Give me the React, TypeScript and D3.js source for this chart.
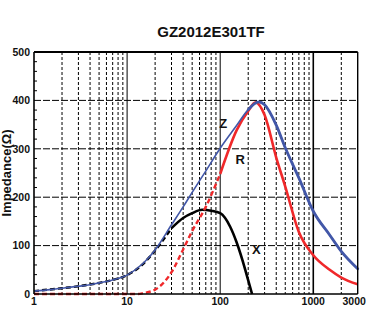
import * as d3 from 'd3';

const TITLE = 'GZ2012E301TF';
const Y_LABEL = 'Impedance(Ω)';

const Y_TICKS = [0, 100, 200, 300, 400, 500];
const X_TICKS = [1, 10, 100, 1000, 3000];

// |Z|
const Z_FREQ = [1, 1.5, 2, 3, 4, 5, 7, 10, 15, 20, 30, 40, 50, 70, 100, 150, 200, 260, 300, 400, 500, 700, 1000, 1500, 2000, 3000];
const Z_VAL = [6, 9, 12, 16, 19, 23, 29, 39, 64, 91, 143, 180, 210, 254, 301, 348, 381, 397, 391, 349, 302, 240, 171, 122, 88, 52];

// R
const R_FREQ = [1, 5, 10, 13, 15, 20, 30, 40, 50, 70, 100, 150, 200, 240, 300, 400, 500, 700, 1000, 1500, 2000, 3000];
const R_VAL = [0, 0, 0, 0, 2, 9, 45, 92, 130, 180, 248, 338, 378, 396, 370, 282, 222, 128, 80, 50, 34, 20];

// X
const X_FREQ = [1, 2, 3, 5, 7, 10, 15, 20, 30, 40, 50, 64, 80, 100, 128, 150, 186, 200, 220];
const X_VAL = [6, 12, 16, 23, 29, 39, 63, 90, 136, 157, 167, 174, 172, 167, 139, 107, 50, 28, 0];

const CURVE_LABELS = [
  { name: 'Z', f: 108, v: 342 },
  { name: 'R', f: 164, v: 268 },
  { name: 'X', f: 244, v: 83 },
];

type Pt = { f: number; v: number };
const zip = (fs: number[], vs: number[]): Pt[] => fs.map((f, i) => ({ f, v: vs[i] }));

const W = 369;
const H = 311;
const left = 34;
const right = 357.7;
const top = 52;
const bottom = 294;
const FONT = "'Liberation Sans', Arial, Helvetica, sans-serif";
const BLUE = '#4257a8';
const RED = '#f0282a';

export default function App() {
  const x = d3.scaleLog().domain([1, 3000]).range([left, right]);
  const y = d3.scaleLinear().domain([0, 500]).range([bottom, top]);

  const line = d3
    .line<Pt>()
    .x((d) => x(d.f))
    .y((d) => y(d.v))
    .curve(d3.curveMonotoneX);

  const z = zip(Z_FREQ, Z_VAL);
  const r = zip(R_FREQ, R_VAL);
  const xs = zip(X_FREQ, X_VAL);

  const zRight = z.filter((d) => d.f >= 200);
  const rDash = r.filter((d) => d.f <= 100);
  const rSolid = r.filter((d) => d.f >= 100);
  const xDash = xs.filter((d) => d.f <= 30);
  const xSolid = xs.filter((d) => d.f >= 30);

  // vertical grid: 2..9 of every decade dashed, decades solid
  const vGrid: { f: number; solid: boolean }[] = [];
  [1, 10, 100, 1000].forEach((dec) => {
    for (let m = 1; m <= 9; m++) {
      const f = dec * m;
      if (f <= 1 || f >= 3000) continue;
      vGrid.push({ f, solid: m === 1 });
    }
  });

  const minorY = d3.range(0, 501, 20).filter((v) => v % 100 !== 0);

  return (
    <svg
      width={W}
      height={H}
      viewBox={`0 0 ${W} ${H}`}
      style={{ position: 'absolute', left: 0, top: 0, background: '#fff' }}
      fontFamily={FONT}
    >
      <rect x={0} y={0} width={W} height={H} fill="#fff" />
      <text x={211} y={37} textAnchor="middle" fontSize={15} fontWeight="bold" fill="#111">
        {TITLE}
      </text>
      <text
        transform={`translate(11,${(top + bottom) / 2}) rotate(-90)`}
        textAnchor="middle"
        fontSize={13}
        fontWeight="bold"
        fill="#111"
      >
        {Y_LABEL}
      </text>

      {/* grid */}
      {vGrid.map((g) => (
        <line
          key={g.f}
          x1={x(g.f)}
          x2={x(g.f)}
          y1={top}
          y2={bottom}
          stroke="#000"
          strokeWidth={g.f === 1000 ? 1.6 : 1}
          strokeDasharray={g.solid ? undefined : '3,2'}
        />
      ))}
      {Y_TICKS.filter((v) => v > 0 && v < 500).map((v) => (
        <line key={v} x1={left} x2={right} y1={y(v)} y2={y(v)} stroke="#000" strokeWidth={1} strokeDasharray="7,2" />
      ))}
      {minorY.map((v) => (
        <line key={v} x1={left} x2={left + 3} y1={y(v)} y2={y(v)} stroke="#000" strokeWidth={1} />
      ))}

      {/* curves */}
      <path d={line(xDash) ?? ''} fill="none" stroke="#000" strokeWidth={2.4} strokeDasharray="5,3" />
      <path d={line(xSolid) ?? ''} fill="none" stroke="#000" strokeWidth={2.6} />
      <path d={line(rDash) ?? ''} fill="none" stroke={RED} strokeWidth={2.4} strokeDasharray="5,3" />
      <path d={line(rSolid) ?? ''} fill="none" stroke={RED} strokeWidth={2.6} />
      <path d={line(z) ?? ''} fill="none" stroke={BLUE} strokeWidth={1.6} />
      <path d={line(zRight) ?? ''} fill="none" stroke={BLUE} strokeWidth={2.8} strokeLinecap="round" />

      {CURVE_LABELS.map((l) => (
        <text key={l.name} x={x(l.f)} y={y(l.v)} textAnchor="middle" fontSize={13} fontWeight="bold" fill="#111">
          {l.name}
        </text>
      ))}

      {/* frame */}
      <line x1={left} x2={right} y1={top} y2={top} stroke="#000" strokeWidth={2} />
      <line x1={left} x2={right} y1={bottom} y2={bottom} stroke="#000" strokeWidth={1.6} />
      <line x1={left} x2={left} y1={top} y2={bottom} stroke="#000" strokeWidth={1.6} />
      <line x1={right} x2={right} y1={top} y2={bottom} stroke="#000" strokeWidth={1.4} />

      {/* tick labels */}
      {Y_TICKS.map((v) => (
        <text key={v} x={30} y={y(v) + 3.7} textAnchor="end" fontSize={10.5} fontWeight="bold" fill="#111">
          {v}
        </text>
      ))}
      {X_TICKS.map((f) => (
        <text
          key={f}
          x={f === 3000 ? x(f) - 3.5 : x(f)}
          y={305}
          textAnchor="middle"
          fontSize={10.5}
          fontWeight="bold"
          fill="#111"
        >
          {f}
        </text>
      ))}
    </svg>
  );
}
